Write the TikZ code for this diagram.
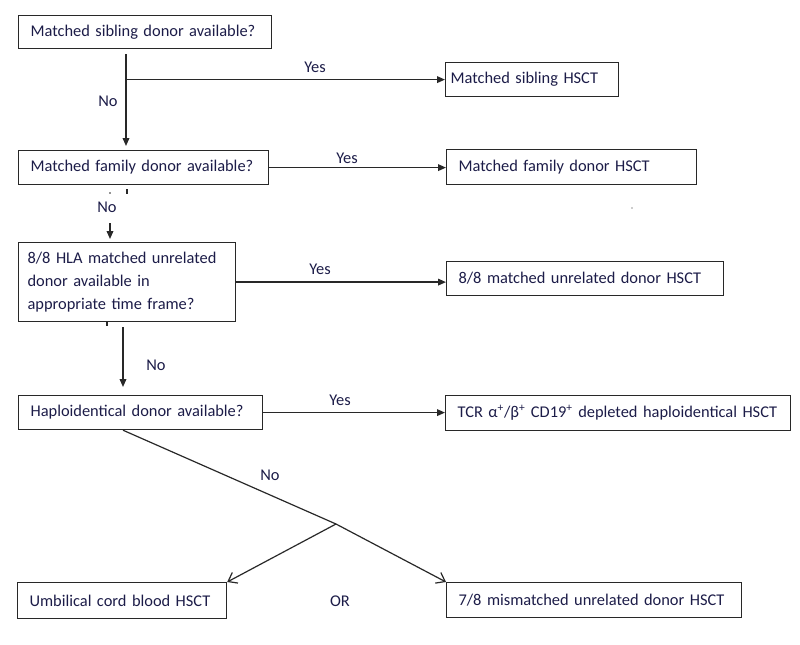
\documentclass[tikz,border=0pt]{standalone}
\usepackage{fontspec}
\setmainfont{Carlito}
\usetikzlibrary{arrows.meta,calc}
\definecolor{txt}{RGB}{28,28,72}
\definecolor{edge}{RGB}{40,40,40}
\begin{document}
\begin{tikzpicture}[x=0.75pt,y=-0.75pt,
  box/.style={draw=edge,line width=0.9pt,anchor=north west,align=left,inner xsep=9pt,inner ysep=0pt,text=txt,font=\fontsize{12.3}{14}\selectfont},
  lab/.style={text=txt,font=\fontsize{12.3}{14}\selectfont,inner sep=0pt},
  conn/.style={draw=edge,line width=1.1pt},
  arr/.style={conn,-{Triangle[length=6pt,width=5pt]}},
  oarr/.style={conn,line width=0.9pt,-{Straight Barb[length=6pt,width=9pt]}}]
\useasboundingbox (0,0) rectangle (800,644);

% question boxes
\node[box,text width=171.75pt,minimum height=24.75pt] (B1) at (18,15) {Matched sibling donor available?};
\node[box,text width=169.5pt,minimum height=25.5pt] (B2) at (18,150) {Matched family donor available?};
\node[box,inner xsep=6.75pt,text width=149.25pt,minimum height=59.25pt,font=\fontsize{12.3}{17}\selectfont] (B3) at (18,242) {\mbox{8/8 HLA matched unrelated}\\\mbox{donor available in}\\\mbox{appropriate time frame?}};
\node[box,text width=165pt,minimum height=25.5pt] (B4) at (18,395) {Haploidentical donor available?};

% outcome boxes
\node[box,inner xsep=3.75pt,text width=122.25pt,minimum height=25.5pt] (Y1) at (445,62) {Matched sibling HSCT};
\node[box,text width=169.5pt,minimum height=26.25pt] (Y2) at (446,149) {Matched family donor HSCT};
\node[box,text width=189.75pt,minimum height=25.5pt] (Y3) at (446,261) {8/8 matched unrelated donor HSCT};
\node[box,text width=240.75pt,minimum height=26.25pt] (Y4) at (445,395) {TCR α\textsuperscript{+}/β\textsuperscript{+} CD19\textsuperscript{+} depleted haploidentical HSCT};
\node[box,text width=138.75pt,minimum height=27pt] (B5) at (17,582) {Umbilical cord blood HSCT};
\node[box,text width=203.25pt,minimum height=26.25pt] (Y6) at (446,582) {7/8 mismatched unrelated donor HSCT};

% connectors
\coordinate (c1) at ($(B1.south west)+(108,5)$);
\draw[arr,shorten >=3pt] (c1) -- (c1 |- B2.north);
\coordinate (j1) at (c1 |- Y1.west);
\draw[arr] (j1) -- (Y1.west);

\draw[arr] (B2.east) -- (B2.east -| Y2.west);
\draw[conn,line width=0.8pt] (127,189) -- (127,194);
\fill[edge] (110,193) circle (0.6pt);
\coordinate (c2) at (110,223);
\draw[arr,shorten >=2.25pt] (c2) -- (c2 |- B3.north);

\draw[arr] (B3.east) -- (B3.east -| Y3.west);
\draw[conn,line width=0.8pt] (107,321) -- (107,326);
\coordinate (c3) at (123,327);
\draw[arr,shorten >=6pt] (c3) -- (c3 |- B4.north);

\draw[arr] (B4.east) -- (B4.east -| Y4.west);

\coordinate (c4) at ($(B4.south west)+(105,0)$);
\coordinate (j2) at (336,524);
\draw[conn,line width=0.9pt] (c4) -- (j2);
\draw[oarr] (j2) -- (Y6.north west);
\draw[oarr] (j2) -- (B5.north east);

\fill[edge] (632,208) circle (0.5pt);

% labels
\node[lab] (yes1) at (315,67) {Yes};
\node[lab] (no1) at (108,101) {No};
\node[lab] (yes2) at (347,158) {Yes};
\node[lab] (no2) at (107,207) {No};
\node[lab] (yes3) at (320,269) {Yes};
\node[lab] (no3) at (156,365) {No};
\node[lab] (yes4) at (340,400) {Yes};
\node[lab] (no4) at (270,475) {No};
\node[lab] (or) at (340,601) {OR};
\end{tikzpicture}
\end{document}
